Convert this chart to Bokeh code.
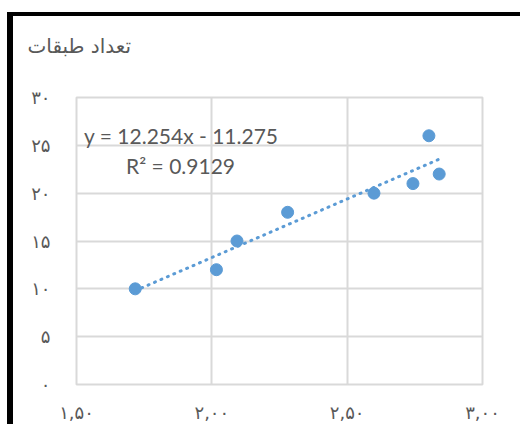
import numpy as np
from bokeh.plotting import figure
from bokeh.models import Range1d, FixedTicker, Label, Title
from bokeh.embed import file_html
from bokeh.resources import INLINE

# data
x_vals = [1.717, 2.017, 2.093, 2.280, 2.599, 2.743, 2.802, 2.840]
y_vals = [10, 12, 15, 18, 20, 21, 26, 22]

x_ticks = [1.5, 2.0, 2.5, 3.0]
x_tick_labels = ["۱,۵۰", "۲,۰۰", "۲,۵۰", "۳,۰۰"]
y_ticks = [0, 5, 10, 15, 20, 25, 30]
y_tick_labels = ["۰", "۵", "۱۰", "۱۵", "۲۰", "۲۵", "۳۰"]

axis_title = "تعداد طبقات"
eq_text = "y = 12.254x - 11.275"
r2_text = "R² = 0.9129"

BLUE = "#5b9bd5"
GREY_TXT = "#595959"
GRID = "#d9d9d9"

p = figure(width=513, height=412, output_backend="svg", toolbar_location=None,
           x_range=Range1d(1.5, 3.0), y_range=Range1d(0, 30),
           min_border_left=63, min_border_right=44, min_border_top=81, min_border_bottom=44)
p.styles = {"border-left": "6px solid black", "border-top": "4px solid black",
            "margin-left": "7px", "margin-top": "12px"}
p.background_fill_color = "white"
p.border_fill_color = "white"
p.outline_line_color = GRID
p.outline_line_width = 2

xax = p.xaxis[0]
yax = p.yaxis[0]

# value-axis title at top-left
t = Title(text=axis_title, align="left", offset=-49, standoff=0,
          text_font="DejaVu Sans", text_font_size="20px", text_color=GREY_TXT,
          text_font_style="normal")
if "padding" in t.properties():
    t.padding = dict(left=0, right=0, top=0, bottom=40)
else:
    t.text = axis_title + "\n "
    t.standoff = 32
p.add_layout(t, "above")

for ax in (xax, yax):
    ax.axis_line_color = None
    ax.major_tick_line_color = None
    ax.minor_tick_line_color = None
    ax.major_label_text_color = GREY_TXT
    ax.major_label_text_font = "DejaVu Sans"
    ax.major_label_text_font_size = "18px"

xax.ticker = FixedTicker(ticks=x_ticks)
yax.ticker = FixedTicker(ticks=y_ticks)
xax.major_label_overrides = {t_: l for t_, l in zip(x_ticks, x_tick_labels)}
yax.major_label_overrides = {t_: l for t_, l in zip(y_ticks, y_tick_labels)}
xax.major_label_standoff = 11
yax.major_label_standoff = 20

p.xgrid.grid_line_color = GRID
p.ygrid.grid_line_color = GRID
p.xgrid.grid_line_width = 2
p.ygrid.grid_line_width = 2

# trendline from least squares fit
coef = np.polyfit(x_vals, y_vals, 1)
tx = [min(x_vals), max(x_vals)]
ty = [coef[0] * v + coef[1] for v in tx]
p.line(tx, ty, line_color=BLUE, line_width=3, line_dash="1 6", line_cap="round")

p.scatter(x_vals, y_vals, size=12, fill_color=BLUE, line_color=BLUE, marker="circle")

p.add_layout(Label(x=1.528, y=26.0, text=eq_text, text_font="Lato", text_font_size="21px",
                   text_color=GREY_TXT, text_baseline="middle", text_align="left"))
p.add_layout(Label(x=1.683, y=22.9, text=r2_text, text_font="Lato", text_font_size="21px",
                   text_color=GREY_TXT, text_baseline="middle", text_align="left"))

open("out.html", "w").write(file_html(p, INLINE))
